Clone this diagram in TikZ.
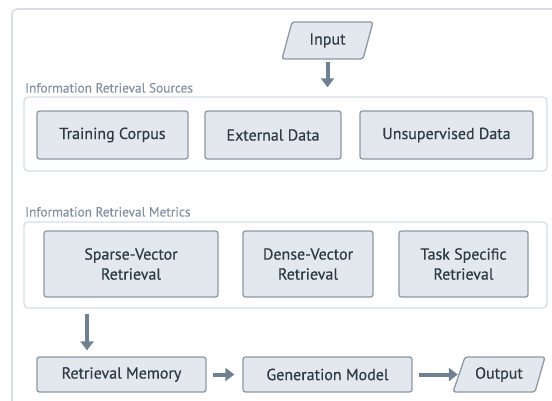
\documentclass[tikz,border=0pt]{standalone}
\usepackage{fontspec}
\setmainfont{PT Sans}
\newfontfamily\medfont{PT Sans}[FakeBold=0.45]
\newfontfamily\lblfont{PT Sans}[FakeBold=0.25]
\usetikzlibrary{arrows.meta}
\definecolor{boxfill}{HTML}{E3E8EF}
\definecolor{boxline}{HTML}{8C99A6}
\definecolor{txt}{HTML}{2E3A46}
\definecolor{arrcol}{HTML}{6F8191}
\definecolor{lblcol}{HTML}{8391A0}
\definecolor{frame}{HTML}{D6DEE6}
\tikzset{
  box/.style={draw=boxline, fill=boxfill, line width=1.3bp, rounded corners=2.5bp,
    text=txt, font=\medfont\fontsize{16bp}{20bp}\selectfont, align=center, inner sep=0pt},
  group/.style={draw=frame, line width=1.4bp, rounded corners=4bp, fill=white, inner sep=0pt},
  grplabel/.style={text=lblcol, font=\lblfont\fontsize{13.3bp}{15bp}\selectfont, anchor=base west, inner sep=0pt},
  io/.style={draw=boxline, fill=boxfill, line width=1.3bp, rounded corners=2.5bp},
  iotext/.style={text=txt, font=\medfont\fontsize{16bp}{20bp}\selectfont, inner sep=0pt},
  arr/.style={draw=arrcol, line width=4bp, -{Triangle[width=13bp,length=9bp]}}
}
\begin{document}
\begin{tikzpicture}[x=1bp,y=1bp]
\useasboundingbox (0,0) rectangle (552,400);
\clip (0,0) rectangle (552,400);
% outer frame
\draw[draw=frame, line width=1.6bp, rounded corners=5bp] (12,391) rectangle (580,-30);

% input
\path[io] (282,341) -- (292,378) -- (373,378) -- (363,341) -- cycle;
\node[iotext, minimum width=81bp, minimum height=37bp] (input) at (327.5,359.5) {Input};

% sources group
\node[grplabel] (srclbl) at (25,307.5) {Information Retrieval Sources};
\node[group, minimum width=523bp, minimum height=74bp] (sources) at (285.5,266) {};
\node[box, minimum width=151bp, minimum height=48bp] (train) at (112.5,265) {Training Corpus};
\node[box, minimum width=136bp, minimum height=48bp] (ext) at (273,265) {External Data};
\node[box, minimum width=173bp, minimum height=48bp] (unsup) at (446.5,265) {Unsupervised Data};

% metrics group
\node[grplabel] (metlbl) at (25,183.5) {Information Retrieval Metrics};
\node[group, minimum width=523bp, minimum height=86bp] (metrics) at (285.5,135) {};
\node[box, minimum width=174bp, minimum height=66bp] (sparse) at (131,136) {Sparse-Vector\\Retrieval};
\node[box, minimum width=130bp, minimum height=66bp] (dense) at (308,136) {Dense-Vector\\Retrieval};
\node[box, minimum width=129bp, minimum height=66bp] (task) at (463.5,136) {Task Specific\\Retrieval};

% bottom row
\node[box, minimum width=169bp, minimum height=35bp] (mem) at (121.5,25.5) {Retrieval Memory};
\node[box, minimum width=169bp, minimum height=35bp] (gen) at (327.5,25.5) {Generation Model};
\path[io] (453,8) -- (465,43) -- (545,43) -- (535,8) -- cycle;
\node[iotext, minimum width=80bp, minimum height=35bp] (out) at (499,25.5) {Output};

% connectors
\coordinate (ax) at (87,0);
\draw[arr, shorten <=3bp, shorten >=9bp] (input.south) -- (sources.north -| input.south);
\draw[arr, shorten <=5bp, shorten >=6bp] (metrics.south -| ax) -- (mem.north -| ax);
\draw[arr, shorten <=6bp, shorten >=8bp] (mem.east) -- (gen.west);
\draw[arr, shorten <=6bp, shorten >=1bp] (gen.east) -- (out.west);
\end{tikzpicture}
\end{document}
